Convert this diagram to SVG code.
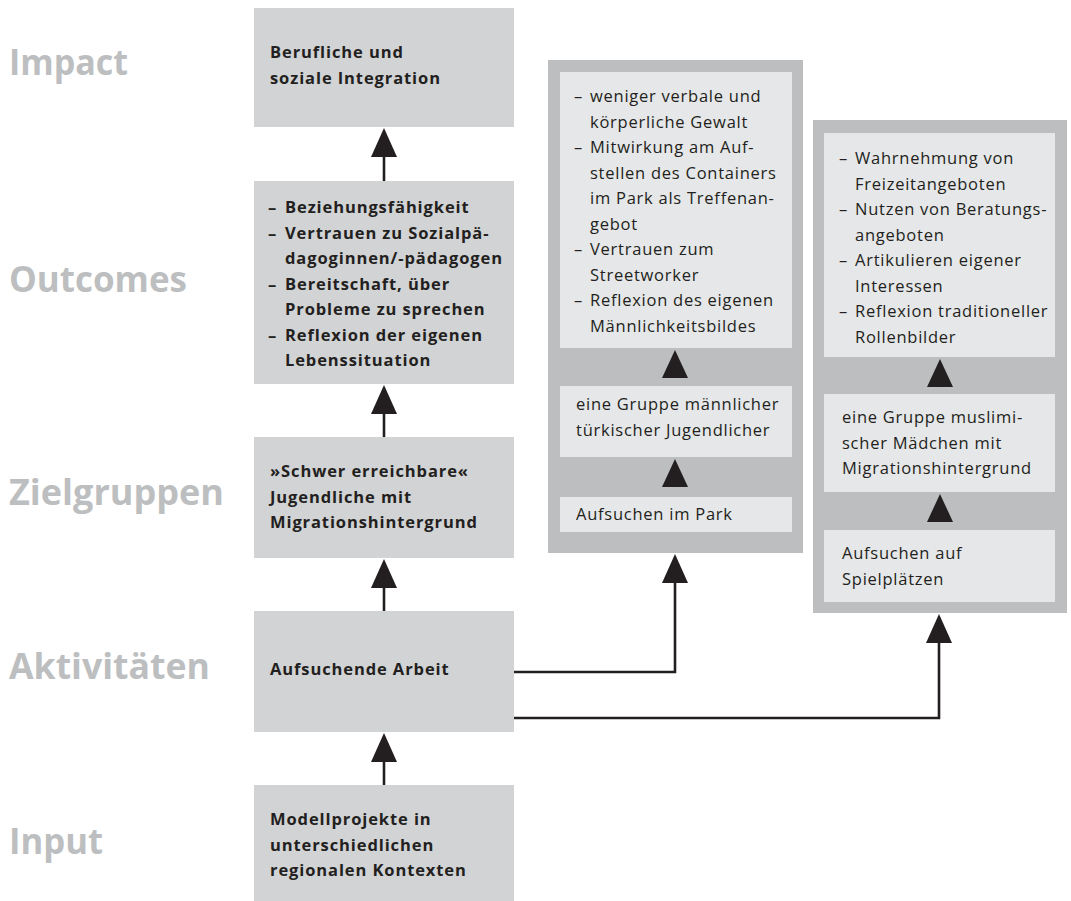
<svg xmlns="http://www.w3.org/2000/svg" width="1071" height="901" viewBox="0 0 1071 901">
<style>
.lbl{font-family:"Open Sans","Liberation Sans",sans-serif;font-weight:700;font-size:36px;fill:#bcbec0}
.box{fill:#d1d3d4}
.panel{fill:#bcbec0}
.inner{fill:#e6e7e8}
.b{font-family:"Open Sans","Liberation Sans",sans-serif;font-weight:700;font-size:16.5px;fill:#231f20;letter-spacing:0.9px}
.r{font-family:"Open Sans","Liberation Sans",sans-serif;font-weight:400;font-size:16.5px;fill:#231f20;letter-spacing:0.75px}
.ln{fill:none;stroke:#231f20;stroke-width:2.6}
.tri{fill:#231f20}
</style>
<rect width="1071" height="901" fill="#ffffff"/>
<g id="labels">
<text class="lbl" x="9" y="75" textLength="119" lengthAdjust="spacingAndGlyphs">Impact</text>
<text class="lbl" x="9" y="292" textLength="178" lengthAdjust="spacingAndGlyphs">Outcomes</text>
<text class="lbl" x="9" y="505" textLength="215" lengthAdjust="spacingAndGlyphs">Zielgruppen</text>
<text class="lbl" x="9" y="679" textLength="201" lengthAdjust="spacingAndGlyphs">Aktivitäten</text>
<text class="lbl" x="9" y="854" textLength="94" lengthAdjust="spacingAndGlyphs">Input</text>
</g>
<g id="impact">
<rect class="box" x="254" y="8" width="260" height="119"/>
<text class="b" x="270" y="58">Berufliche und</text>
<text class="b" x="270" y="84">soziale Integration</text>
</g>
<g id="outcomes">
<rect class="box" x="254" y="181" width="260" height="203"/>
<text class="b" x="268" y="213">–</text><text class="b" x="285" y="213">Beziehungsfähigkeit</text>
<text class="b" x="268" y="238.5">–</text><text class="b" x="285" y="238.5">Vertrauen zu Sozialpä-</text>
<text class="b" x="285" y="264">dagoginnen/-pädagogen</text>
<text class="b" x="268" y="289.5">–</text><text class="b" x="285" y="289.5">Bereitschaft, über</text>
<text class="b" x="285" y="315">Probleme zu sprechen</text>
<text class="b" x="268" y="340.5">–</text><text class="b" x="285" y="340.5">Reflexion der eigenen</text>
<text class="b" x="285" y="366">Lebenssituation</text>
</g>
<g id="zielgruppen">
<rect class="box" x="254" y="437" width="260" height="121"/>
<text class="b" x="270" y="477">»Schwer erreichbare«</text>
<text class="b" x="270" y="502.5">Jugendliche mit</text>
<text class="b" x="270" y="528">Migrationshintergrund</text>
</g>
<g id="aktivitaeten">
<rect class="box" x="254" y="611" width="260" height="121"/>
<text class="b" x="270" y="675">Aufsuchende Arbeit</text>
</g>
<g id="input">
<rect class="box" x="254" y="785" width="260" height="116"/>
<text class="b" x="270" y="825">Modellprojekte in</text>
<text class="b" x="270" y="850.5">unterschiedlichen</text>
<text class="b" x="270" y="876">regionalen Kontexten</text>
</g>
<g id="panel-park">
<rect class="panel" x="548" y="60" width="255" height="493"/>
<rect class="inner" x="560" y="72" width="232" height="276"/>
<text class="r" x="574" y="102">–</text><text class="r" x="590" y="102">weniger verbale und</text>
<text class="r" x="590" y="127.5">körperliche Gewalt</text>
<text class="r" x="574" y="153">–</text><text class="r" x="590" y="153">Mitwirkung am Auf-</text>
<text class="r" x="590" y="178.5">stellen des Containers</text>
<text class="r" x="590" y="204">im Park als Treffenan-</text>
<text class="r" x="590" y="229.5">gebot</text>
<text class="r" x="574" y="255">–</text><text class="r" x="590" y="255">Vertrauen zum</text>
<text class="r" x="590" y="280.5">Streetworker</text>
<text class="r" x="574" y="306">–</text><text class="r" x="590" y="306">Reflexion des eigenen</text>
<text class="r" x="590" y="331.5">Männlichkeitsbildes</text>
<polygon class="tri" points="675,350 688,378 662,378"/>
<rect class="inner" x="560" y="386" width="232" height="71"/>
<text class="r" x="576" y="410">eine Gruppe männlicher</text>
<text class="r" x="576" y="435.5">türkischer Jugendlicher</text>
<polygon class="tri" points="675,459 688,487 662,487"/>
<rect class="inner" x="560" y="497" width="232" height="35"/>
<text class="r" x="576" y="520">Aufsuchen im Park</text>
</g>
<g id="panel-spielplatz">
<rect class="panel" x="813" y="120" width="254" height="493"/>
<rect class="inner" x="824" y="133" width="231" height="224"/>
<text class="r" x="839" y="164">–</text><text class="r" x="855" y="164">Wahrnehmung von</text>
<text class="r" x="855" y="189.5">Freizeitangeboten</text>
<text class="r" x="839" y="215">–</text><text class="r" x="855" y="215">Nutzen von Beratungs-</text>
<text class="r" x="855" y="240.5">angeboten</text>
<text class="r" x="839" y="266">–</text><text class="r" x="855" y="266">Artikulieren eigener</text>
<text class="r" x="855" y="291.5">Interessen</text>
<text class="r" x="839" y="317">–</text><text class="r" x="855" y="317">Reflexion traditioneller</text>
<text class="r" x="855" y="342.5">Rollenbilder</text>
<polygon class="tri" points="940,359 953,387 927,387"/>
<rect class="inner" x="824" y="394" width="231" height="98"/>
<text class="r" x="842" y="423">eine Gruppe muslimi-</text>
<text class="r" x="842" y="448.5">scher Mädchen mit</text>
<text class="r" x="842" y="474">Migrationshintergrund</text>
<polygon class="tri" points="940,494 953,522 927,522"/>
<rect class="inner" x="824" y="530" width="231" height="72"/>
<text class="r" x="842" y="559">Aufsuchen auf</text>
<text class="r" x="842" y="584.5">Spielplätzen</text>
</g>
<g id="connectors">
<line class="ln" x1="384" y1="156" x2="384" y2="181"/>
<polygon class="tri" points="384,128 397,157 371,157"/>
<line class="ln" x1="384" y1="413" x2="384" y2="437"/>
<polygon class="tri" points="384,385 397,414 371,414"/>
<line class="ln" x1="384" y1="587" x2="384" y2="611"/>
<polygon class="tri" points="384,559 397,588 371,588"/>
<line class="ln" x1="384" y1="761" x2="384" y2="785"/>
<polygon class="tri" points="384,733 397,762 371,762"/>
<polyline class="ln" points="514,672 675,672 675,582"/>
<polygon class="tri" points="675,554 688,583 662,583"/>
<polyline class="ln" points="514,718 939,718 939,642"/>
<polygon class="tri" points="939,614 952,643 926,643"/>
</g>
</svg>
